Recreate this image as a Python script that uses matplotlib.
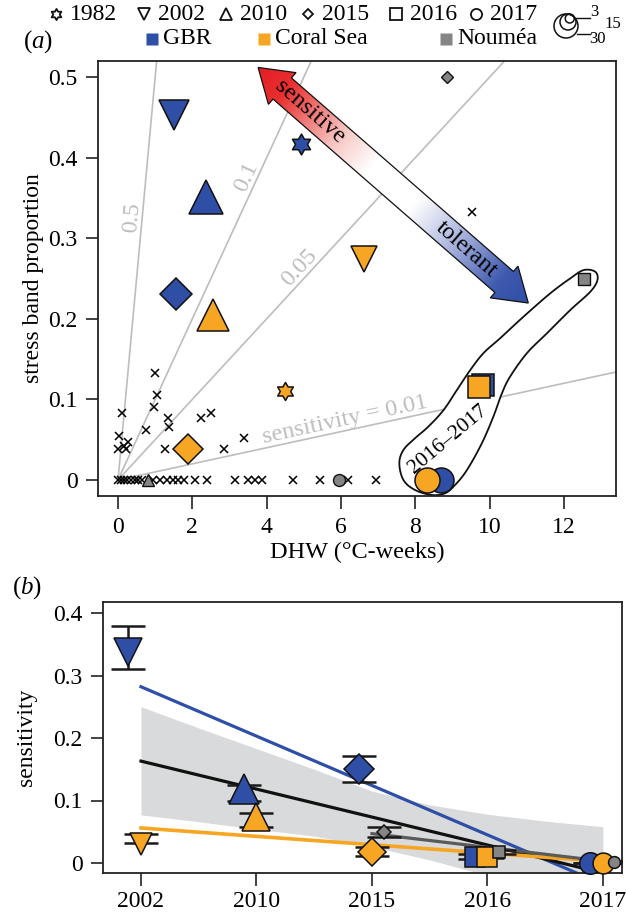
import numpy as np
import matplotlib.pyplot as plt
from matplotlib.patches import Polygon, Circle
from matplotlib.path import Path
from matplotlib.colors import LinearSegmentedColormap

plt.rcParams['font.family'] = ['Liberation Serif', 'DejaVu Serif']
plt.rcParams['mathtext.fontset'] = 'custom'
plt.rcParams['mathtext.rm'] = 'Liberation Serif'
plt.rcParams['mathtext.it'] = 'Liberation Serif:italic'

# colours
c_gbr = '#2f4fa6'
c_cs = '#f6a623'
c_nou = '#858585'
c_sens = '#bdbdbd'

# ---------------- panel (a) data ----------------
# GBR: 1982, 2002, 2010, 2015, 2016, 2017
gbr_dhw = [4.93, 1.51, 2.37, 1.56, 9.83, 8.70]
gbr_prop = [0.417, 0.453, 0.351, 0.231, 0.118, 0.0]
gbr_size = [15, 21.6, 24.5, 15.8, 16.5, 18]
# Coral Sea
cs_dhw = [4.50, 6.62, 2.56, 1.88, 9.72, 8.32]
cs_prop = [0.110, 0.274, 0.205, 0.038, 0.115, 0.0]
cs_size = [13, 18.7, 23, 14.8, 15.8, 18]
# Noumea: 2010, 2015, 2016, 2017
nou_dhw = [0.80, 8.86, 12.54, 5.95]
nou_prop = [0.0, 0.50, 0.249, 0.0]
nou_size = [8, 6.6, 8, 8.6]
nou_years = ['2010', '2015', '2016', '2017']
years_all = ['1982', '2002', '2010', '2015', '2016', '2017']

# individual reefs (crosses)
cross_dhw = [1.00, 1.04, 0.98, 0.10, 1.34, 1.37, 0.75, 2.23, 2.50, 0.03, 0.28, 0.17,
             0.00, 0.21, 1.27, 3.40, 2.86, 9.53,
             0.0, 0.08, 0.15, 0.25, 0.35, 0.45, 0.55, 0.65, 0.95, 1.13, 1.31, 1.49,
             1.62, 1.78, 2.07, 2.39, 3.15, 3.51, 3.69, 3.87, 4.71, 5.44, 6.19, 6.95]
cross_prop = [0.133, 0.105, 0.091, 0.083, 0.0765, 0.066, 0.062, 0.0765, 0.0835, 0.0546,
              0.0475, 0.042, 0.038, 0.038, 0.038, 0.0525, 0.038, 0.333,
              0, 0, 0, 0, 0, 0, 0, 0, 0, 0, 0, 0,
              0, 0, 0, 0, 0, 0, 0, 0, 0, 0, 0, 0]

sens_levels = [0.5, 0.1, 0.05, 0.01]
sens_labels = ['0.5', '0.1', '0.05', 'sensitivity = 0.01']
sens_label_dhw = [0.65, 3.70, 5.09, 6.16]

# outline around the 2016-2017 points
blob_dhw = [8.44, 7.99, 7.68, 7.57, 7.68, 7.99, 8.35, 8.76, 9.12, 9.48, 9.83, 10.28,
            10.91, 11.63, 12.17, 12.53, 12.84, 12.90, 12.71, 12.17, 11.54, 11.00,
            10.55, 10.33, 10.10, 9.79, 9.39, 9.07, 8.80]
blob_prop = [-0.0186, -0.0124, 0.0, 0.0207, 0.0372, 0.0517, 0.0662, 0.0868, 0.1117,
             0.1365, 0.1572, 0.1758, 0.2026, 0.2316, 0.2502, 0.2605, 0.2585, 0.2481,
             0.2337, 0.2109, 0.1820, 0.1572, 0.1282, 0.1075, 0.0786, 0.0455, 0.0124,
             -0.0062, -0.0165]

arrow_sens = (3.77, 0.512)
arrow_tol = (11.04, 0.2196)

# ---------------- panel (b) data ----------------
b_years = ['2002', '2010', '2015', '2016', '2017']
b_pos = [1, 2, 3, 4, 5]
b_markers = ['v', '^', 'D', 's', 'o']
gbr_b = [0.338, 0.118, 0.150, 0.010, 0.0]
gbr_lo = [0.310, 0.099, 0.129, 0.006, 0.0]
gbr_hi = [0.379, 0.125, 0.172, 0.014, 0.0]
gbr_bsize = [20, 21.6, 14.8, 14.4, 15.5]
cs_b = [0.031, 0.073, 0.018, 0.010, 0.0]
cs_lo = [0.032, 0.058, 0.012, 0.008, 0.0]
cs_hi = [0.046, 0.080, 0.025, 0.012, 0.0]
cs_bsize = [16.5, 20, 14.3, 14.4, 15]
nou_pos = [3, 4, 5]
nou_b = [0.050, 0.018, 0.002]
nou_lo = [0.042, 0.015, 0.0]
nou_hi = [0.058, 0.021, 0.004]
nou_bsize = [7, 8, 8.5]

fit_x = [1, 5]
fit_gbr = [0.282, -0.034]
fit_all = [0.163, -0.016]
fit_cs = [0.056, 0.0025]
fit_nou_x = [3, 5]
fit_nou = [0.047, 0.003]
band_x = [1, 1.5, 2, 2.5, 3, 3.5, 4, 4.5, 5]
band_hi = [0.250, 0.216, 0.183, 0.150, 0.115, 0.093, 0.078, 0.067, 0.058]
band_lo = [0.077, 0.066, 0.054, 0.043, 0.026, 0.005, -0.02, -0.05, -0.08]

# hexagram marker for 1982
ang_o = np.deg2rad(90 + 60 * np.arange(6))
ang_i = np.deg2rad(120 + 60 * np.arange(6))
hv = []
for a, b in zip(ang_o, ang_i):
    hv.append((np.cos(a), np.sin(a)))
    hv.append((np.cos(b) / np.sqrt(3), np.sin(b) / np.sqrt(3)))
hv.append(hv[0])
hexagram = Path(hv, closed=True)
year_marker = {'1982': hexagram, '2002': 'v', '2010': '^', '2015': 'D', '2016': 's', '2017': 'o'}

FS_TICK = 17
FS_LAB = 17


def closed_spline(x, y, n=10):
    pts = np.column_stack([x, y])
    out = []
    N = len(pts)
    for i in range(N):
        p0, p1, p2, p3 = pts[i - 1], pts[i], pts[(i + 1) % N], pts[(i + 2) % N]
        for t in np.linspace(0, 1, n, endpoint=False):
            out.append(0.5 * (2 * p1 + (-p0 + p2) * t + (2 * p0 - 5 * p1 + 4 * p2 - p3) * t ** 2
                              + (-p0 + 3 * p1 - 3 * p2 + p3) * t ** 3))
    return np.array(out)


def style_axes(ax):
    for s in ax.spines.values():
        s.set_linewidth(1.3)
        s.set_color('#222222')
    ax.tick_params(direction='out', length=9, width=1.2, labelsize=FS_TICK, color='#222222')


fig = plt.figure(figsize=(6.26, 9.17), dpi=100)

# legend / annotation layer in pixel units
lax = fig.add_axes([0, 0, 1, 1])
lax.set_xlim(0, 626)
lax.set_ylim(917, 0)
lax.axis('off')

# ---------------- panel (a) ----------------
ax = fig.add_axes([98 / 626, 1 - 496 / 917, 518 / 626, 435 / 917])
ax.set_xlim(-0.538, 13.40)
ax.set_ylim(-0.0199, 0.520)
style_axes(ax)
ax.tick_params(axis='y', pad=5.5)
ax.tick_params(axis='x', pad=6)
ax.set_xticks([0, 2, 4, 6, 8, 10, 12])
ax.set_yticks([0, 0.1, 0.2, 0.3, 0.4, 0.5])
ax.set_yticklabels(['0', '0.1', '0.2', '0.3', '0.4', '0.5'])
ax.set_xlabel('DHW (°C-weeks)', fontsize=FS_LAB + 0.5)
ax.xaxis.set_label_coords(0.5, -0.106)
ax.set_ylabel('stress band proportion', fontsize=FS_LAB)
ax.yaxis.set_label_coords(-0.104, 0.5)

xline = np.array([0, 13.4])
for s, lab, lx in zip(sens_levels, sens_labels, sens_label_dhw):
    ax.plot(xline, s * xline, color=c_sens, lw=1.2, zorder=1)
    ang = np.degrees(np.arctan(s))
    ax.text(lx, s * lx, lab, color=c_sens, fontsize=17.5, ha='center', va='bottom',
            rotation=ang, rotation_mode='anchor', transform_rotates_text=True, zorder=1)

# outline of 2016-2017
bl = closed_spline(blob_dhw, blob_prop)
ax.add_patch(Polygon(bl, closed=True, fc='white', ec='#111111', lw=1.3, zorder=2))
ax.text(8.87, 0.05, '2016–2017', fontsize=15.5, rotation=40, ha='center', va='center',
        rotation_mode='anchor', zorder=3)

ax.plot(cross_dhw, cross_prop, 'x', color='black', ms=5.5, mew=1.1, zorder=3)

for i, yr in enumerate(years_all):
    ax.plot(gbr_dhw[i], gbr_prop[i], marker=year_marker[yr], ms=gbr_size[i], mfc=c_gbr,
            mec='#111111', mew=1.1, ls='none', zorder=4)
for i, yr in enumerate(years_all):
    ax.plot(cs_dhw[i], cs_prop[i], marker=year_marker[yr], ms=cs_size[i], mfc=c_cs,
            mec='#111111', mew=1.1, ls='none', zorder=4)
for i, yr in enumerate(nou_years):
    ax.plot(nou_dhw[i], nou_prop[i], marker=year_marker[yr], ms=nou_size[i], mfc=c_nou,
            mec='#111111', mew=1.0, ls='none', zorder=4)

# gradient double arrow (built in screen space)
T = ax.transData
p1 = T.transform(arrow_sens)
p2 = T.transform(arrow_tol)
L = np.hypot(*(p2 - p1))
u = (p2 - p1) / L
nrm = np.array([-u[1], u[0]])
hl, hw, sw = 32, 21, 14
poly = [p1, p1 + u * hl + nrm * hw, p1 + u * hl + nrm * sw, p2 - u * hl + nrm * sw,
        p2 - u * hl + nrm * hw, p2, p2 - u * hl - nrm * hw, p2 - u * hl - nrm * sw,
        p1 + u * hl - nrm * sw, p1 + u * hl - nrm * hw]
poly_d = T.inverted().transform(np.array(poly))
arrow_patch = Polygon(poly_d, closed=True, fc='none', ec='#111111', lw=0.9, zorder=6)
ax.add_patch(arrow_patch)
cmap = LinearSegmentedColormap.from_list('sens', [
    (0.0, '#e31d25'), (0.10, '#e8302f'), (0.30, '#f8c8c4'), (0.42, '#ffffff'),
    (0.58, '#ffffff'), (0.74, '#a7b2dc'), (0.90, '#3f5aaf'), (1.0, '#2f4ea6')])
x0, y0 = poly_d.min(axis=0)
x1, y1 = poly_d.max(axis=0)
gx, gy = np.meshgrid(np.linspace(x0, x1, 300), np.linspace(y0, y1, 300))
gd = T.transform(np.column_stack([gx.ravel(), gy.ravel()]))
tt = ((gd - p1) @ u / L).reshape(gx.shape)
im = ax.imshow(np.clip(tt, 0, 1), cmap=cmap, extent=(x0, x1, y0, y1), origin='lower',
               aspect='auto', zorder=5, interpolation='bilinear', vmin=0, vmax=1)
im.set_clip_path(arrow_patch)
ang_arrow = np.degrees(np.arctan2(u[1], u[0]))
for t_, lab in [(0.19, 'sensitive'), (0.77, 'tolerant')]:
    pt = T.inverted().transform(p1 + u * L * t_)
    ax.text(pt[0], pt[1], lab, fontsize=17.5, rotation=ang_arrow, ha='center', va='center',
            rotation_mode='anchor', zorder=7)

# ---------------- panel (b) ----------------
bx = fig.add_axes([103 / 626, 1 - 873 / 917, 519 / 626, 271 / 917])
bx.set_xlim(0.671, 5.165)
bx.set_ylim(-0.016, 0.4176)
style_axes(bx)
bx.tick_params(axis='x', pad=4)
bx.tick_params(axis='y', pad=5.5)
bx.set_xticks(b_pos)
bx.set_xticklabels(b_years)
bx.set_yticks([0, 0.1, 0.2, 0.3, 0.4])
bx.set_yticklabels(['0', '0.1', '0.2', '0.3', '0.4'])
bx.set_ylabel('sensitivity', fontsize=FS_LAB)
bx.yaxis.set_label_coords(-0.128, 0.5)

bx.fill_between(band_x, band_lo, band_hi, color='#d9dadb', lw=0, zorder=1)
bx.plot(fit_x, fit_gbr, color=c_gbr, lw=2.3, zorder=2)
bx.plot(fit_x, fit_all, color='#111111', lw=2.3, zorder=2)
bx.plot(fit_x, fit_cs, color=c_cs, lw=2.6, zorder=2)
bx.plot(fit_nou_x, fit_nou, color='#5a5a5a', lw=2.3, zorder=2)

offs = {'gbr': -0.11, 'cs': 0.0, 'nou': 0.1}
for vals, lo, hi, sizes, pos, col, key in [
        (gbr_b, gbr_lo, gbr_hi, gbr_bsize, b_pos, c_gbr, 'gbr'),
        (cs_b, cs_lo, cs_hi, cs_bsize, b_pos, c_cs, 'cs'),
        (nou_b, nou_lo, nou_hi, nou_bsize, nou_pos, c_nou, 'nou')]:
    lo = np.array(lo)
    hi = np.array(hi)
    xs = np.array(pos) + offs[key]
    bx.errorbar(xs, (lo + hi) / 2, yerr=(hi - lo) / 2, fmt='none', ecolor='#1a1a1a',
                elinewidth=1.8, capsize=12.5, capthick=1.8, zorder=3)
    for i in range(len(xs)):
        bx.plot(xs[i], vals[i], marker=b_markers[pos[i] - 1], ms=sizes[i], mfc=col,
                mec='#111111', mew=1.1, ls='none', zorder=4, clip_on=False)

# ---------------- legend and labels ----------------
leg1_x = [56, 144, 226, 308, 396, 476]
for lx, yr in zip(leg1_x, years_all):
    ms = 8 if yr != '2015' else 5.5
    lax.plot(lx, 14, marker=year_marker[yr], ms=ms, mfc='none', mec='#111111', mew=1.3)
    lax.text(lx + 14, 14, yr, fontsize=17, va='center', ha='left')
leg2_x = [152, 264, 446]
for lx, lab, col in zip(leg2_x, ['GBR', 'Coral Sea', 'Nouméa'], [c_gbr, c_cs, c_nou]):
    lax.plot(lx, 39, marker='s', ms=9, mfc=col, mec='none')
    lax.text(lx + 11, 39, lab, fontsize=17, va='center', ha='left')

# size key
for r, cy in [(12, 26), (8, 22), (4.5, 18.5)]:
    lax.add_patch(Circle((566 + (12 - r) * 0.5, cy), r, fill=False, ec='#111111', lw=1.1))
lax.plot([576, 590], [18, 18], color='#111111', lw=1)
lax.plot([577, 590], [34, 34], color='#111111', lw=1)
lax.text(590, 12, '3', fontsize=12, va='center', ha='left')
lax.text(589, 39, '30', fontsize=12, va='center', ha='left')
lax.text(604, 24, '15', fontsize=12, va='center', ha='left')

lax.text(38, 42, r'$(a)$', fontsize=18, ha='center', va='center')
lax.text(27, 588, r'$(b)$', fontsize=18, ha='center', va='center')

fig.savefig('out.png', dpi=100)
